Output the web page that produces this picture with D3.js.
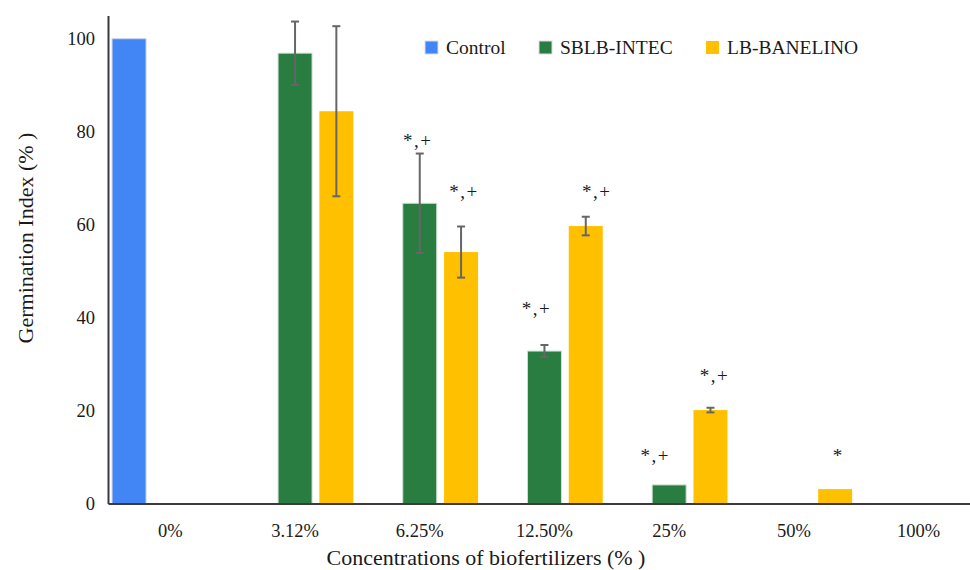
<!DOCTYPE html>
<html lang="en">
<head>
<meta charset="UTF-8">
<title>Germination Index</title>
<script src="https://d3js.org/d3.v7.min.js"></script>
<style>
  body { margin: 0; background: #fff; }
</style>
</head>
<body>
<svg width="970" height="570"></svg>
<script>
// categories and series
const categories = ["0%", "3.12%", "6.25%", "12.50%", "25%", "50%", "100%"];
const seriesNames = ["Control", "SBLB-INTEC", "LB-BANELINO"];

// values (Germination Index, %)
const controlValues = [100, null, null, null, null, null, null];
const sblbValues    = [null, 96.9, 64.6, 32.8, 4.0, null, null];
const lbValues      = [null, 84.4, 54.1, 59.7, 20.1, 3.1, null];

// error bars (+/-)
const sblbErrors = [null, 6.8, 10.7, 1.3, null, null, null];
const lbErrors   = [null, 18.3, 5.5, 2.0, 0.5, null, null];

// significance marks
const sblbMarks = [null, null, "*,+", "*,+", "*,+", null, null];
const lbMarks   = [null, null, "*,+", "*,+", "*,+", "*", null];

const yTicks = [0, 20, 40, 60, 80, 100];

const FONT = "Liberation Serif, DejaVu Serif, Times New Roman, Times, serif";

const colors = { "Control": "#4285f4", "SBLB-INTEC": "#2a7d41", "LB-BANELINO": "#ffc000" };
const strokes = { "Control": "#c7d6ea", "SBLB-INTEC": "#cfe0d3", "LB-BANELINO": "none" };

// where the marks sit (value level of the "+" and a small horizontal nudge)
const markPlacement = {
  "SBLB-INTEC":  { level: [null, null, 77.8, 41.6, 10.0, null, null], dx: [0, 0, -2, -8, -14, 0, 0] },
  "LB-BANELINO": { level: [null, null, 66.9, 66.9, 27.3, 10.0, null], dx: [0, 0, 3, 11, 4, 3, 0] }
};

const svg = d3.select("svg")
    .attr("font-family", FONT)
    .style("font-family", FONT);
const step = 124.7;
const left = 108;

const x = d3.scaleBand()
    .domain(categories)
    .range([left, left + step * categories.length]);

const xInner = d3.scaleBand()
    .domain(seriesNames)
    .range([0, step])
    .paddingInner(0.177)
    .paddingOuter(0.098);

const y = d3.scaleLinear()
    .domain([0, 105])
    .range([503.5, 15.5]);

// build rows
const rows = [];
const seriesData = [
  { name: "Control", values: controlValues, errors: [], marks: [] },
  { name: "SBLB-INTEC", values: sblbValues, errors: sblbErrors, marks: sblbMarks },
  { name: "LB-BANELINO", values: lbValues, errors: lbErrors, marks: lbMarks }
];
seriesData.forEach(s => {
  categories.forEach((c, i) => {
    if (s.values[i] == null) return;
    rows.push({ series: s.name, cat: c, i, value: s.values[i], err: s.errors[i], mark: s.marks[i] });
  });
});

// bars
svg.append("g").selectAll("rect")
  .data(rows)
  .join("rect")
    .attr("x", d => x(d.cat) + xInner(d.series))
    .attr("y", d => y(d.value))
    .attr("width", xInner.bandwidth())
    .attr("height", d => y(0) - y(d.value))
    .attr("fill", d => colors[d.series])
    .attr("stroke", d => strokes[d.series])
    .attr("stroke-width", 1);

// error bars
const errRows = rows.filter(d => d.err != null);
const eg = svg.append("g").attr("stroke", "#666").attr("stroke-width", 2);
errRows.forEach(d => {
  const cx = x(d.cat) + xInner(d.series) + xInner.bandwidth() / 2;
  const y1 = y(d.value + d.err), y2 = y(d.value - d.err);
  eg.append("line").attr("x1", cx).attr("x2", cx).attr("y1", y1).attr("y2", y2);
  eg.append("line").attr("x1", cx - 4).attr("x2", cx + 4).attr("y1", y1).attr("y2", y1);
  eg.append("line").attr("x1", cx - 4).attr("x2", cx + 4).attr("y1", y2).attr("y2", y2);
});

// significance marks
svg.append("g").selectAll("text")
  .data(rows.filter(d => d.mark))
  .join("text")
    .attr("x", d => x(d.cat) + xInner(d.series) + xInner.bandwidth() / 2 + markPlacement[d.series].dx[d.i])
    .attr("y", d => y(markPlacement[d.series].level[d.i]) + 5)
    .attr("text-anchor", "middle")
    .attr("font-size", "19px")
    .attr("letter-spacing", "1.5px")
    .attr("fill", "#1a1a1a")
    .text(d => d.mark);

// y axis
const yAxis = svg.append("g")
    .attr("transform", `translate(${left},0)`)
    .call(d3.axisLeft(y).tickValues(yTicks).tickSize(0).tickPadding(13))
    .attr("font-family", FONT);
yAxis.select(".domain").attr("stroke", "#3a3a3a").attr("stroke-width", 2);
yAxis.selectAll(".tick text").attr("font-size", "18.5px").attr("fill", "#1a1a1a");

// x axis
const xAxis = svg.append("g")
    .attr("transform", `translate(0,${y(0)})`)
    .call(d3.axisBottom(x).tickSize(0).tickPadding(20))
    .attr("font-family", FONT);
xAxis.select(".domain").attr("stroke", "#3a3a3a").attr("stroke-width", 2);
xAxis.selectAll(".tick text").attr("font-size", "18.5px").attr("fill", "#1a1a1a");

// axis titles
svg.append("text")
    .attr("transform", "translate(33,238) rotate(-90)")
    .attr("text-anchor", "middle")
    .attr("font-size", "22px")
    .attr("fill", "#1a1a1a")
    .text("Germination Index (% )");

svg.append("text")
    .attr("x", 486)
    .attr("y", 565)
    .attr("text-anchor", "middle")
    .attr("font-size", "22px")
    .attr("fill", "#1a1a1a")
    .text("Concentrations of biofertilizers (% )");

// legend
const legendX = [425, 539, 706];
const legend = svg.append("g").selectAll("g")
  .data(seriesNames)
  .join("g")
    .attr("transform", (d, i) => `translate(${legendX[i]},41)`);
legend.append("rect")
    .attr("width", 13).attr("height", 13)
    .attr("fill", d => colors[d])
    .attr("stroke", d => strokes[d] === "none" ? "none" : "#d5dde8")
    .attr("stroke-width", 1);
legend.append("text")
    .attr("x", 21)
    .attr("y", 12.5)
    .attr("font-size", "19.5px")
    .attr("fill", "#1a1a1a")
    .text(d => d);
</script>
</body>
</html>
